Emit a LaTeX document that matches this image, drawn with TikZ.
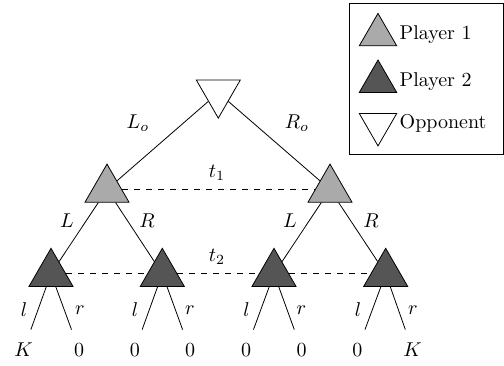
\documentclass[tikz,border=0pt]{standalone}
\usetikzlibrary{shapes.geometric}
\definecolor{pone}{RGB}{170,170,170}
\definecolor{ptwo}{RGB}{85,85,85}
\begin{document}
\begin{tikzpicture}[x=0.5pt,y=-0.5pt,
  tri/.style={regular polygon, regular polygon sides=3, draw, inner sep=0pt, minimum size=25.4pt},
  pl1/.style={tri, fill=pone},
  pl2/.style={tri, fill=ptwo},
  opp/.style={tri, fill=white, shape border rotate=180},
  small/.style={minimum size=21.6pt},
  leaf/.style={inner xsep=2pt, inner ysep=6.58pt, text height=6.83pt, text depth=0pt},
  lbl/.style={inner sep=0pt},
  info/.style={dashed},
  legtext/.style={anchor=west, inner sep=0pt}]
\useasboundingbox (0,0) rectangle (504,365);

% tree nodes
\node[opp] (root) at (218.3,92.7) {};
\node[pl1] (a) at (107,189.5) {};
\node[pl1] (b) at (330,189.5) {};
\node[pl2] (aa) at (51,273.7) {};
\node[pl2] (ab) at (162.3,273.7) {};
\node[pl2] (ba) at (274,273.7) {};
\node[pl2] (bb) at (385.7,273.7) {};

% leaves
\node[leaf] (k1) at (23.5,350) {$K$};
\node[leaf] (k2) at (79,350) {$0$};
\node[leaf] (k3) at (134.8,350) {$0$};
\node[leaf] (k4) at (190,350) {$0$};
\node[leaf] (k5) at (246,350) {$0$};
\node[leaf] (k6) at (301.7,350) {$0$};
\node[leaf] (k7) at (357.4,350) {$0$};
\node[leaf] (k8) at (412.5,350) {$K$};

% edges
\draw (root) -- (a);
\draw (root) -- (b);
\draw (a) -- (aa);
\draw (a) -- (ab);
\draw (b) -- (ba);
\draw (b) -- (bb);
\draw (aa) -- (k1);
\draw (aa) -- (k2);
\draw (ab) -- (k3);
\draw (ab) -- (k4);
\draw (ba) -- (k5);
\draw (ba) -- (k6);
\draw (bb) -- (k7);
\draw (bb) -- (k8);

% information sets
\draw[info] (a) -- (b);
\draw[info] (aa) -- (ab);
\draw[info] (ab) -- (ba);
\draw[info] (ba) -- (bb);

% labels
\node[lbl] (lo) at (138,123) {$L_o$};
\node[lbl] (ro) at (297,123) {$R_o$};
\node[lbl] (t1) at (217,173) {$t_1$};
\node[lbl] (t2) at (217,256.7) {$t_2$};
\node[lbl] (la) at (67,221) {$L$};
\node[lbl] (ra) at (147,221) {$R$};
\node[lbl] (lb) at (290,221) {$L$};
\node[lbl] (rb) at (371,221) {$R$};
\node[lbl] (l1) at (24,310) {$l$};
\node[lbl] (r1) at (80,310) {$r$};
\node[lbl] (l2) at (135,310) {$l$};
\node[lbl] (r2) at (190,310) {$r$};
\node[lbl] (l3) at (246.5,310) {$l$};
\node[lbl] (r3) at (301.5,310) {$r$};
\node[lbl] (l4) at (358,310) {$l$};
\node[lbl] (r4) at (413,310) {$r$};

% legend
\draw (349.3,3) rectangle (503,154.5);
\node[pl1, small] (g1) at (378,35) {};
\node[pl2, small] (g2) at (378,81.6) {};
\node[opp, small] (g3) at (378,124.3) {};
\node[legtext] (g1t) at (399.3,35) {Player 1};
\node[legtext] (g2t) at (399.3,81.6) {Player 2};
\node[legtext] (g3t) at (399.3,123.5) {Opponent};
\end{tikzpicture}
\end{document}
